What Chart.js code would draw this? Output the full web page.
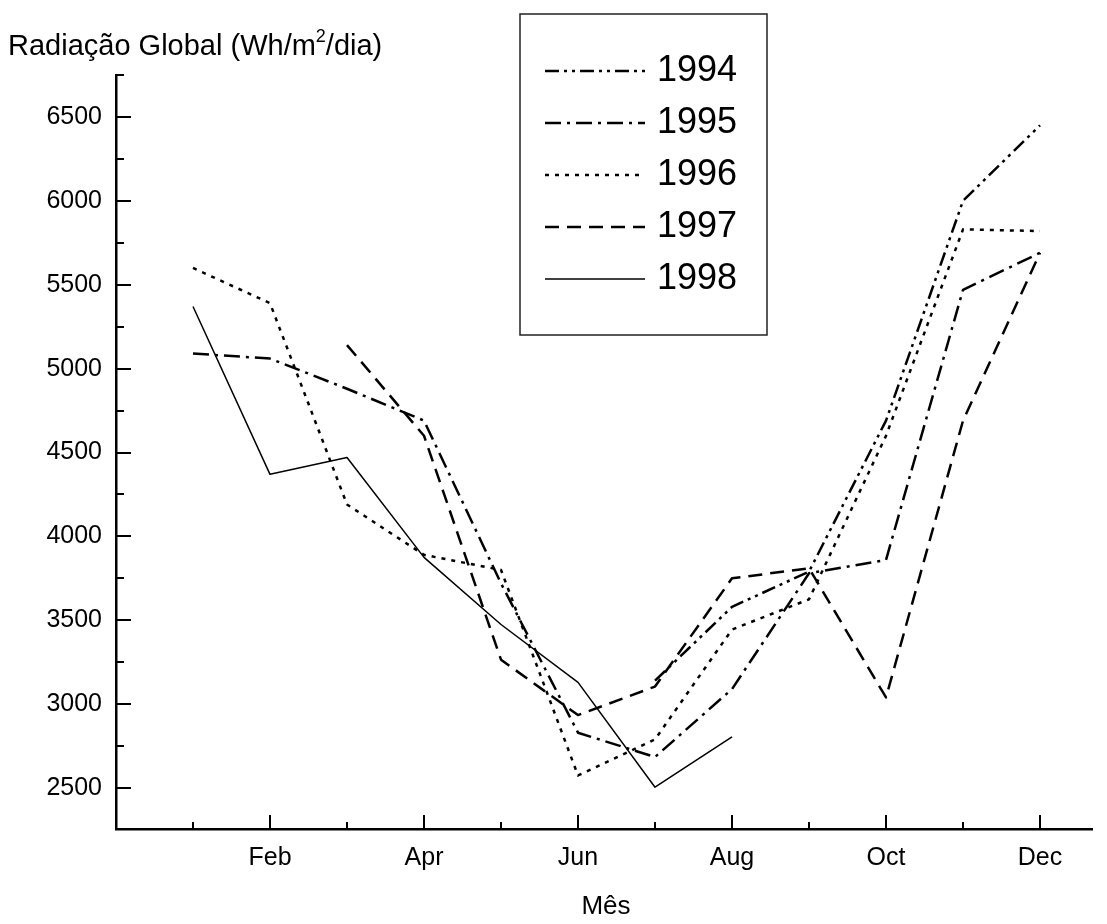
<!DOCTYPE html>
<html>
<head>
<meta charset="utf-8">
<script src="https://cdn.jsdelivr.net/npm/chart.js@4.4.0/dist/chart.umd.min.js"></script>
<style>
  body { margin: 0; background: #fff; }
  canvas { display: block; }
</style>
</head>
<body>
<canvas id="chart" width="1107" height="924"></canvas>
<script>
// months on the x axis (1 = Jan)
var months = [1, 2, 3, 4, 5, 6, 7, 8, 9, 10, 11, 12];
var monthNames = ['Jan', 'Feb', 'Mar', 'Apr', 'May', 'Jun', 'Jul', 'Aug', 'Sep', 'Oct', 'Nov', 'Dec'];
var xTickMonths = [2, 4, 6, 8, 10, 12];
var yTickValues = [2500, 3000, 3500, 4000, 4500, 5000, 5500, 6000, 6500];

// global radiation, Wh/m2/dia
var rad1994 = [null, null, null, null, null, null, 3140, 3580, 3790, 4690, 6000, 6450];
var rad1995 = [5090, 5060, 4880, 4690, 3720, 2830, 2685, 3090, 3780, 3860, 5470, 5690];
var rad1996 = [5600, 5390, 4190, 3890, 3800, 2575, 2790, 3445, 3625, 4600, 5830, 5820];
var rad1997 = [null, null, 5140, 4600, 3265, 2935, 3105, 3750, 3810, 3040, 4690, 5690];
var rad1998 = [5370, 4370, 4470, 3875, 3475, 3130, 2505, 2805, null, null, null, null];

var years = ['1994', '1995', '1996', '1997', '1998'];
var series = [rad1994, rad1995, rad1996, rad1997, rad1998];
var dashes = [[14, 5, 3, 5, 3, 5], [16, 6, 3, 6], [4, 6], [14, 8], []];
var widths = [2.5, 2.5, 2.5, 2.5, 1.5];

var FONT = "'Liberation Sans', Arial, sans-serif";

function toPoints(vals) {
	return months.map(function (m, i) { return { x: m, y: vals[i] }; });
}

// ticks pointing into the plot, majors long, minors short
var innerTicks = {
	id: 'innerTicks',
	afterDraw: function (chart) {
		var ctx = chart.ctx, area = chart.chartArea;
		var x = chart.scales.x, y = chart.scales.y;
		ctx.save();
		ctx.strokeStyle = '#000';
		ctx.lineWidth = 2;
		ctx.beginPath();
		months.forEach(function (m) {
			var px = Math.round(x.getPixelForValue(m));
			var len = (m % 2 === 0) ? 14 : 7;
			ctx.moveTo(px, area.bottom);
			ctx.lineTo(px, area.bottom - len);
		});
		for (var v = 2500; v <= y.max; v += 250) {
			var py = Math.round(y.getPixelForValue(v));
			var l = (v % 500 === 0) ? 15 : 8;
			ctx.moveTo(area.left, py);
			ctx.lineTo(area.left + l, py);
		}
		ctx.stroke();
		ctx.restore();
	}
};

// axis titles and the boxed legend
var labelsAndLegend = {
	id: 'labelsAndLegend',
	afterDraw: function (chart) {
		var ctx = chart.ctx;
		ctx.save();
		ctx.fillStyle = '#000';
		ctx.textBaseline = 'alphabetic';
		ctx.textAlign = 'left';
		ctx.font = '29px ' + FONT;
		var t1 = 'Radiação Global (Wh/m';
		ctx.fillText(t1, 8, 55);
		var w1 = ctx.measureText(t1).width;
		ctx.font = '18px ' + FONT;
		ctx.fillText('2', 8 + w1, 42);
		var w2 = ctx.measureText('2').width;
		ctx.font = '29px ' + FONT;
		ctx.fillText('/dia)', 8 + w1 + w2, 55);

		ctx.textAlign = 'center';
		ctx.font = '26px ' + FONT;
		ctx.fillText('Mês', 606, 914);

		// legend box
		ctx.strokeStyle = '#222';
		ctx.lineWidth = 1.5;
		ctx.strokeRect(520, 14, 247, 321);
		ctx.textAlign = 'left';
		ctx.textBaseline = 'middle';
		ctx.font = '36px ' + FONT;
		years.forEach(function (yr, i) {
			var yy = 71 + i * 52;
			ctx.save();
			ctx.strokeStyle = '#000';
			ctx.lineWidth = widths[i];
			ctx.setLineDash(dashes[i]);
			ctx.beginPath();
			ctx.moveTo(545, yy);
			ctx.lineTo(645, yy);
			ctx.stroke();
			ctx.restore();
			ctx.fillText(yr, 657, yy);
		});
		ctx.restore();
	}
};

new Chart(document.getElementById('chart'), {
	type: 'line',
	data: {
		datasets: series.map(function (vals, i) {
			return {
				label: years[i],
				data: toPoints(vals),
				borderColor: '#000',
				borderWidth: widths[i],
				borderDash: dashes[i],
				borderJoinStyle: 'round',
				pointRadius: 0,
				tension: 0,
				spanGaps: false,
				fill: false
			};
		})
	},
	options: {
		responsive: false,
		animation: false,
		layout: { padding: { top: 75, right: 15, left: 0, bottom: 0 } },
		plugins: {
			legend: { display: false },
			tooltip: { enabled: false }
		},
		scales: {
			x: {
				type: 'linear',
				min: 0,
				max: 12.675,
				afterFit: function (s) { s.height = 95; },
				afterBuildTicks: function (s) {
					s.ticks = xTickMonths.map(function (m) { return { value: m }; });
				},
				border: { display: true, color: '#000', width: 2.5 },
				grid: { display: false, drawTicks: false },
				ticks: {
					color: '#000',
					font: { family: FONT, size: 25 },
					padding: 14,
					maxRotation: 0,
					callback: function (v) { return monthNames[v - 1]; }
				}
			},
			y: {
				type: 'linear',
				min: 2256,
				max: 6750,
				afterFit: function (s) { s.width = 116; },
				afterBuildTicks: function (s) {
					s.ticks = yTickValues.map(function (v) { return { value: v }; });
				},
				border: { display: true, color: '#000', width: 2.5 },
				grid: { display: false, drawTicks: false },
				ticks: {
					color: '#000',
					font: { family: FONT, size: 25 },
					padding: 14,
					callback: function (v) { return String(v); }
				}
			}
		}
	},
	plugins: [innerTicks, labelsAndLegend]
});
</script>
</body>
</html>
